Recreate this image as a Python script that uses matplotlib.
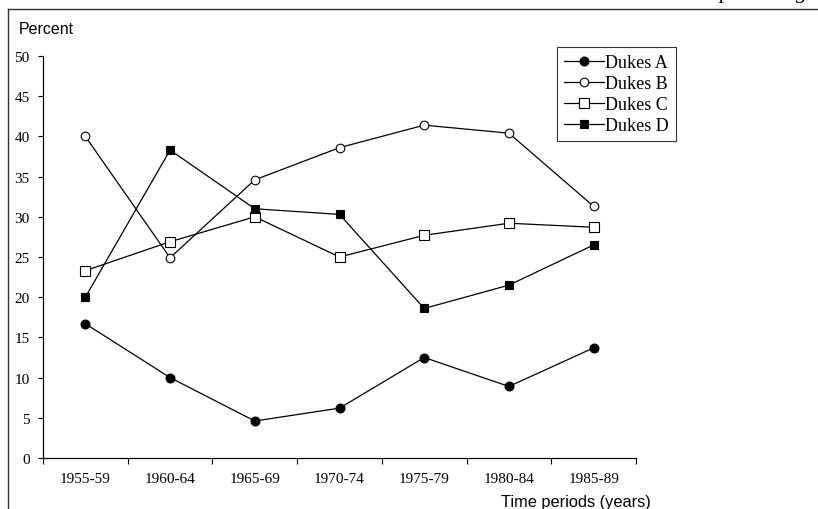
import matplotlib
matplotlib.use("Agg")
import matplotlib.pyplot as plt
from matplotlib.lines import Line2D

periods = ["1955-59", "1960-64", "1965-69", "1970-74", "1975-79", "1980-84", "1985-89"]
dukes_a = [16.7, 10.0, 4.6, 6.2, 12.5, 8.9, 13.7]
dukes_b = [40.0, 24.9, 34.6, 38.6, 41.4, 40.4, 31.3]
dukes_c = [23.3, 26.9, 30.0, 25.0, 27.7, 29.2, 28.7]
dukes_d = [20.0, 38.3, 31.0, 30.3, 18.6, 21.5, 26.5]
series_names = ["Dukes A", "Dukes B", "Dukes C", "Dukes D"]
y_ticks = [0, 5, 10, 15, 20, 25, 30, 35, 40, 45, 50]

W, H = 818, 510
fig = plt.figure(figsize=(W / 100, H / 100), dpi=100)
fig.patch.set_facecolor("white")

def fx(px):
    return px / W

def fy(py):
    return 1 - py / H

ax = fig.add_axes([fx(43), fy(459), fx(636) - fx(43), fy(57) - fy(459)])

serif = "Liberation Serif"
sans = "Liberation Sans"

x = list(range(len(periods)))
styles = [
    dict(marker="o", markersize=6.4, markerfacecolor="black", markeredgecolor="black"),
    dict(marker="o", markersize=6.2, markerfacecolor="white", markeredgecolor="black"),
    dict(marker="s", markersize=6.6, markerfacecolor="white", markeredgecolor="black"),
    dict(marker="s", markersize=5.8, markerfacecolor="black", markeredgecolor="black"),
]
for vals, name, st in zip([dukes_a, dukes_b, dukes_c, dukes_d], series_names, styles):
    ax.plot(x, vals, color="black", linewidth=0.9, markeredgewidth=0.8, label=name, **st)

ax.set_xlim(-0.5, len(periods) - 0.5)
ax.set_ylim(0, 50)
ax.set_yticks(y_ticks)
ax.set_yticklabels([str(v) for v in y_ticks], fontfamily=serif, fontsize=11)
ax.set_xticks([i - 0.5 for i in range(len(periods) + 1)])
ax.set_xticklabels([])
ax.set_xticks(x, minor=True)
ax.set_xticklabels(periods, minor=True, fontfamily=serif, fontsize=11)
ax.tick_params(axis="x", which="major", direction="out", length=4, width=0.8, color="black")
ax.tick_params(axis="x", which="minor", length=0, pad=10)
ax.tick_params(axis="y", direction="out", length=3.5, width=0.8, pad=6)

for s in ["top", "right"]:
    ax.spines[s].set_visible(False)
for s in ["left", "bottom"]:
    ax.spines[s].set_linewidth(0.9)
    ax.spines[s].set_color("black")

fig.text(fx(19), fy(29), "Percent", fontfamily=sans, fontsize=11.5, ha="left", va="center")
fig.text(fx(651), fy(503), "Time periods (years)", fontfamily=sans, fontsize=11.8,
         ha="right", va="center")

leg = ax.legend(loc="upper left", bbox_to_anchor=(fx(557), fy(48)), bbox_transform=fig.transFigure,
                prop={"family": serif, "size": 13}, frameon=True, fancybox=False,
                edgecolor="black", handlelength=2.2, handletextpad=0.05, labelspacing=0.22,
                borderpad=0.4, borderaxespad=0)
leg.get_frame().set_linewidth(0.8)

# outer frame (left and top edges)
fig.add_artist(Line2D([fx(8), fx(8)], [fy(10), 0], transform=fig.transFigure, color="#333333", linewidth=1.0))
fig.add_artist(Line2D([fx(8), 1], [fy(10), fy(10)], transform=fig.transFigure, color="#333333", linewidth=1.0))

# top-right caption (mostly cut off, as in the reference)
fig.text(fx(719), fy(-2), "percentages", fontfamily=serif, fontstyle="italic", fontsize=16,
         ha="left", va="baseline")

fig.savefig("out.png", dpi=100, facecolor="white")
